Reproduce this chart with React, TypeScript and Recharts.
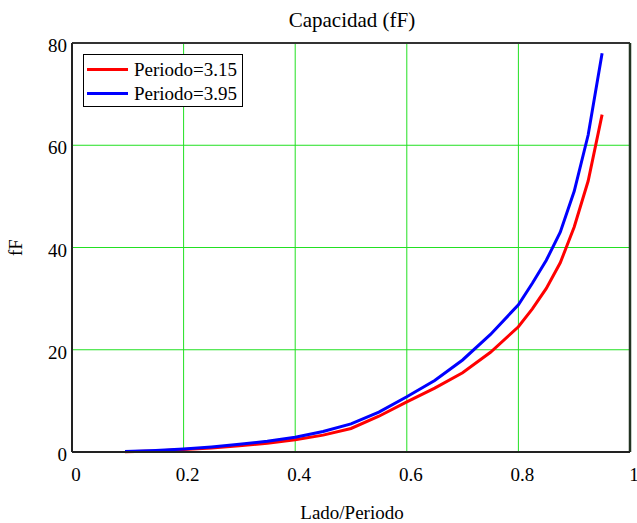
import { LineChart, Line, XAxis, YAxis, CartesianGrid, ReferenceLine } from 'recharts'

const xs = [0.095, 0.15, 0.2, 0.25, 0.3, 0.35, 0.4, 0.45, 0.5, 0.55, 0.6, 0.65, 0.7, 0.75, 0.8, 0.825, 0.85, 0.875, 0.9, 0.925, 0.95]
const periodo315 = [0.05, 0.2, 0.5, 0.8, 1.2, 1.7, 2.4, 3.3, 4.6, 7.0, 9.8, 12.5, 15.5, 19.5, 24.5, 28, 32, 37, 44, 53, 66]
const periodo395 = [0.1, 0.3, 0.6, 1.0, 1.5, 2.1, 2.9, 4.0, 5.5, 7.8, 10.8, 14, 18, 23, 28.8, 33, 37.5, 43, 51, 62, 78]
const xTicks = [0, 0.2, 0.4, 0.6, 0.8, 1]
const yTicks = [0, 20, 40, 60, 80]
const seriesNames = ['Periodo=3.15', 'Periodo=3.95']
const seriesColors = ['#ff0000', '#0000ff']

const data = xs.map((x, i) => ({ x, a: periodo315[i], b: periodo395[i] }))

const font = 'Liberation Serif, Times New Roman, serif'
const fs = 19

function LegendBox() {
  return (
    <div style={{
      position: 'absolute', left: 83, top: 54, width: 160, height: 53,
      border: '1.5px solid #000', background: '#fff',
      boxSizing: 'border-box', fontFamily: font, fontSize: fs, color: '#000',
      padding: '2px 0 0 3px', lineHeight: 1,
    }}>
      {seriesNames.map((n, i) => (
        <div key={n} style={{ display: 'flex', alignItems: 'center', height: 24 }}>
          <span style={{ display: 'inline-block', width: 41, height: 3, background: seriesColors[i], marginRight: 6 }} />
          <span>{n}</span>
        </div>
      ))}
    </div>
  )
}

function XTick({ x, y, payload }: any) {
  return (
    <text x={x + 4} y={y + 23} textAnchor="middle" fontFamily={font} fontSize={fs} fill="#000">
      {String(payload.value)}
    </text>
  )
}

function YTick({ x, y, payload }: any) {
  return (
    <text x={x + 1} y={y + 9} textAnchor="end" fontFamily={font} fontSize={fs} fill="#000">
      {String(payload.value)}
    </text>
  )
}

function XLabel(props: any) {
  const vb = props.viewBox || {}
  const cx = vb.x + vb.width / 2
  return (
    <text x={cx + 1} y={519} textAnchor="middle" fontFamily={font} fontSize={fs} fill="#000">Lado/Periodo</text>
  )
}

function YLabel(props: any) {
  const vb = props.viewBox || {}
  const cy = vb.y + vb.height / 2
  return (
    <text x={15} y={cy} transform={`rotate(-90 15 ${cy})`} textAnchor="middle" dominantBaseline="central"
      fontFamily={font} fontSize={fs} fill="#000">fF</text>
  )
}

export default function App() {
  return (
    <div style={{ position: 'absolute', left: 0, top: 0, width: 637, height: 523, background: '#fff' }}>
      <div style={{
        position: 'absolute', left: 72, top: 8, width: 560, textAlign: 'center',
        fontFamily: font, fontSize: 21, color: '#000', lineHeight: 1.2,
      }}>Capacidad (fF)</div>
      <LineChart width={637} height={523} data={data} margin={{ top: 43, right: 7, left: 0, bottom: 0 }}>
        <CartesianGrid stroke="#22e022" strokeWidth={1} horizontalValues={[20, 40, 60]} verticalValues={[0.2, 0.4, 0.6, 0.8]} />
        <XAxis dataKey="x" type="number" domain={[0, 1]} ticks={xTicks} height={71}
          tickLine={false} axisLine={{ stroke: '#222', strokeWidth: 2 }}
          tick={<XTick />} tickMargin={0} interval={0}
          label={<XLabel />} />
        <YAxis type="number" domain={[0, 80]} ticks={yTicks} width={72}
          tickLine={false} axisLine={{ stroke: '#222', strokeWidth: 2 }}
          tick={<YTick />} tickMargin={0} interval={0}
          label={<YLabel />} />
        <ReferenceLine y={80} stroke="#333" strokeWidth={2} />
        <ReferenceLine x={1} stroke="#223322" strokeWidth={2.5} />
        <Line type="linear" dataKey="a" name={seriesNames[0]} stroke={seriesColors[0]} strokeWidth={3} dot={false} isAnimationActive={false} />
        <Line type="linear" dataKey="b" name={seriesNames[1]} stroke={seriesColors[1]} strokeWidth={3} dot={false} isAnimationActive={false} />
      </LineChart>
      <LegendBox />
    </div>
  )
}
